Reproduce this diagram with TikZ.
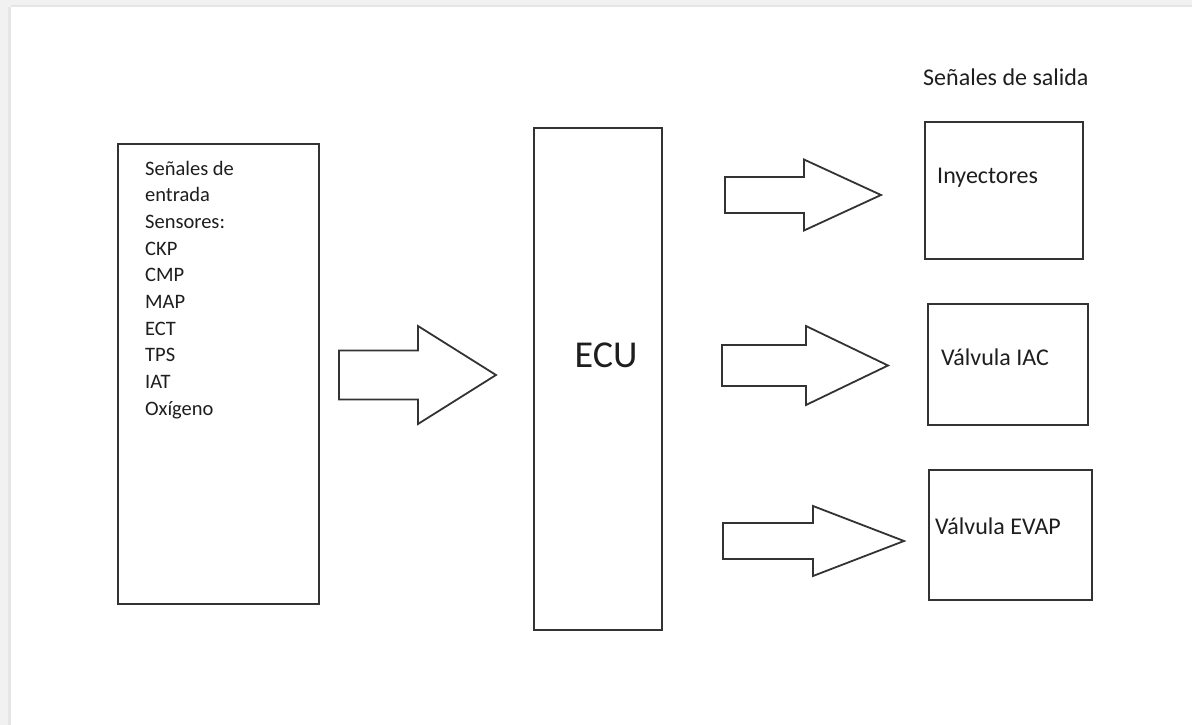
\documentclass[tikz,border=0pt]{standalone}
\usepackage{fontspec}
\setmainfont{Carlito}
\begin{document}
\begin{tikzpicture}[x=1pt,y=-1pt,
  line/.style={draw=boxline,line width=1.8pt,line join=miter},
  blk/.style={line,fill=white,inner sep=0pt},
  bigarrow/.style={line,fill=white},
  intext/.style={text=ink,inner sep=0pt,font=\fontsize{20.5}{24}\selectfont},
  outtext/.style={text=ink,inner sep=0pt,font=\fontsize{24}{28}\selectfont},
]
\definecolor{boxline}{HTML}{333333}
\definecolor{ink}{HTML}{1E1E1E}
\definecolor{frame}{HTML}{F1F1F1}
\definecolor{frameedge}{HTML}{E5E5E5}

% page and its grey frame
\useasboundingbox (0,0) rectangle (1192,725);
\fill[frame] (0,0) rectangle (1192,7);
\fill[frame] (0,0) rectangle (11,725);
\fill[frameedge] (11,5) rectangle (1192,7);
\fill[frameedge] (8,7) rectangle (11,725);

% blocks
\node[blk,minimum width=201pt,minimum height=460pt,anchor=north west] (inputs) at (117,143) {};
\node[blk,minimum width=128pt,minimum height=502pt,anchor=north west] (ecu) at (533,127) {};
\node[blk,minimum width=158pt,minimum height=137pt,anchor=north west] (iny) at (924,121) {};
\node[blk,minimum width=160pt,minimum height=121pt,anchor=north west] (iac) at (927,303) {};
\node[blk,minimum width=163pt,minimum height=130pt,anchor=north west] (evap) at (928,469) {};

% input list
\foreach \t [count=\i from 0] in {Señales de,entrada,Sensores:,CKP,CMP,MAP,ECT,TPS,IAT,Oxígeno}
  \node[intext,anchor=base west] (in\i) at (145,175+26.7*\i) {\t};

% labels
\node[text=ink,inner sep=0pt,font=\fontsize{38}{44}\selectfont,anchor=base] (ecutext) at (606,367) {ECU};
\node[outtext,anchor=base west] (saltitle) at (923,85) {Señales de salida};
\node[outtext,anchor=base west] (inytext) at (937,183) {Inyectores};
\node[outtext,anchor=base west] (iactext) at (941,365) {Válvula IAC};
\node[outtext,anchor=base west] (evaptext) at (935,534) {Válvula EVAP};

% block arrows: left x, head x, tip x, centre y, half shaft, half head
\newcommand{\blockarrow}[6]{%
  \draw[bigarrow] (#1,#4-#5) -- (#2,#4-#5) -- (#2,#4-#6) -- (#3,#4)
    -- (#2,#4+#6) -- (#2,#4+#5) -- (#1,#4+#5) -- cycle;}
\blockarrow{339}{418}{496}{375}{24.5}{49}
\blockarrow{725}{804}{881}{195}{18}{35.5}
\blockarrow{722}{806}{888}{365.5}{20.5}{39.5}
\blockarrow{723}{813}{904}{541}{18}{35}
\end{tikzpicture}
\end{document}
